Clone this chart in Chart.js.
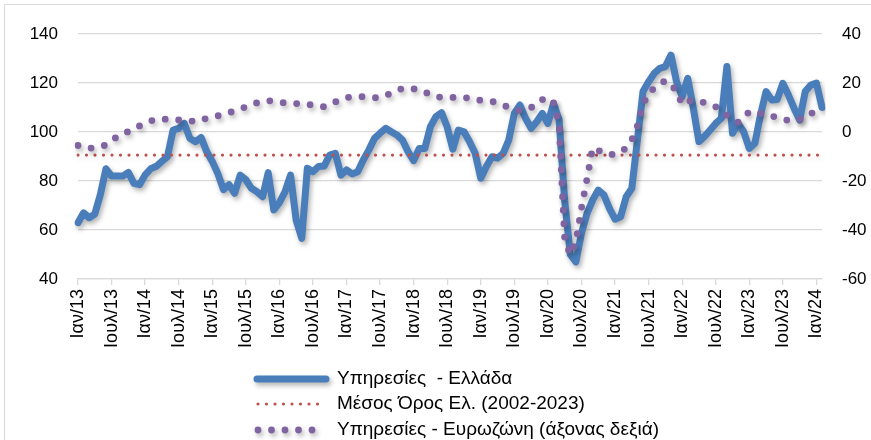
<!DOCTYPE html>
<html>
<head>
<meta charset="utf-8">
<script src="https://cdn.jsdelivr.net/npm/chart.js@4.4.0/dist/chart.umd.min.js"></script>
<style>
  html, body { margin: 0; padding: 0; background: #fff; }
  #wrap { position: relative; width: 871px; height: 440px; overflow: hidden; }
  #frame { position: absolute; left: 4px; top: 4px; width: 880px; height: 460px; border: 1px solid #d9d9d9; box-sizing: border-box; }
  canvas { position: absolute; left: 0; top: 0; }
</style>
</head>
<body>
<div id="wrap"><div id="frame"></div><canvas id="chart" width="871" height="440"></canvas></div>
<script>
// months Ιαν/13 ... Φεβ/24
const monthNames = ['Ιαν', 'Φεβ', 'Μαρ', 'Απρ', 'Μαϊ', 'Ιουν', 'Ιουλ', 'Αυγ', 'Σεπ', 'Οκτ', 'Νοε', 'Δεκ'];
const firstYear = 2013;
const nMonths = 134;

// Υπηρεσίες - Ελλάδα (left axis)
const greece = [
  63, 67, 65, 66.5, 74.5, 85, 82, 82, 82, 83.5, 79, 78.5,
  82.5, 85, 86, 88, 90, 100.8, 101.5, 103.5, 97.4, 96, 97.8, 92,
  88, 83, 76.5, 78.5, 75, 82.4, 80.5, 77, 75.6, 73.6, 83.4, 68.2,
  71.2, 75.6, 82.4, 64, 56.6, 85.2, 83.8, 85.9, 86.1, 90.6, 91.3, 82.4,
  84.5, 82.9, 83.8, 88.6, 92.7, 97.4, 99.5, 101.5, 100.1, 98.8, 96.7, 92,
  88.3, 93.3, 93.3, 102.2, 106.3, 107.9, 102, 93, 100.8, 100.1, 96, 91.3,
  81.1, 85.9, 89.9, 89.3, 91.3, 96.7, 107.6, 111, 105.6, 101.5, 104.2, 107.6,
  103.5, 111.7, 105, 72, 50, 47, 58.6, 66.8, 72.2, 76.3, 74.3, 68.8,
  64.4, 65.4, 73.6, 77, 96.7, 116.5, 120.5, 123.9, 126, 126.7, 131.4, 120.5,
  114.4, 121.9, 109.7, 96.1, 98.2, 100.8, 103.5, 105.6, 126.7, 99.5, 103.5, 100.1,
  93.3, 95.4, 106.9, 116.5, 113.1, 113.3, 119.9, 115.1, 109.7, 104.9, 116.5, 119.2,
  120, 110
];

// Μέσος Όρος Ελ. (2002-2023)
const meanGreece = 90.6;

// Υπηρεσίες - Ευρωζώνη (right axis)
const eurozone = [
  -5.5, -6, -6.7, -6.3, -6, -5.3, -3.6, -1.9, -0.7, 0.2, 1.3, 2.5,
  3.6, 4.5, 5.2, 5.3, 5.2, 5, 4.9, 4.9, 4.6, 4.2, 4.8, 5.6,
  6, 6.6, 7.2, 7.9, 8.6, 9.3, 10.3, 11.3, 11.9, 12.4, 12.8, 12.5,
  12.1, 11.9, 11.7, 11.6, 11.5, 11.3, 11, 10.5, 10.3, 11.2, 12.3, 13.3,
  14.1, 14.3, 14.4, 14.4, 14.2, 14, 14.1, 14.9, 15.9, 16.9, 17.8, 18,
  17.6, 17.3, 16.4, 15.2, 14.4, 14.2, 14.1, 14.1, 14.1, 14.1, 13.8, 13.3,
  12.9, 12.6, 12.5, 11.8, 10.9, 10.1, 9.3, 8.7, 9.2, 10, 11, 13.2,
  14, 12, 3, -44, -50, -45, -31, -19, -6.5, -7.5, -8.5, -9.3,
  -9, -8.2, -6.5, -3.2, 2.5, 11, 16, 17.8, 19.5, 21, 19.5, 16.5,
  11.3, 12.5, 13, 12.5, 12, 11, 10.3, 8.5, 6.8, 5.5, 4, 6,
  8.3, 8, 7.6, 7.2, 6.5, 6, 5.3, 4.7, 4.9, 5.3, 5.8, 7.5,
  8.6, 9.2
];

const leftTicks = { min: 40, max: 140, step: 20 };
const rightTicks = { min: -60, max: 40, step: 20 };

let labels = [];
for (let i = 0; i < nMonths; i++) {
  let yy = String((firstYear + Math.floor(i / 12)) % 100).padStart(2, '0');
  labels.push(monthNames[i % 12] + '/' + yy);
}

const FONT = 'Liberation Sans';

const shadow = {
  id: 'shadow',
  beforeDatasetDraw(chart, args) {
    const ctx = chart.ctx;
    ctx.save();
    ctx.shadowColor = args.index === 1 ? 'rgba(0,0,0,0.15)' : 'rgba(0,0,0,0.3)';
    ctx.shadowBlur = 5;
    ctx.shadowOffsetX = 2;
    ctx.shadowOffsetY = 3;
  },
  afterDatasetDraw(chart) {
    chart.ctx.restore();
  }
};

// legend stacked under the axis, left aligned
const legendBox = {
  id: 'legendBox',
  afterDraw(chart) {
    const ctx = chart.ctx;
    const rows = [
      { y: 379, x0: 257, x1: 326 },
      { y: 404, x0: 258, x1: 322 },
      { y: 430, x0: 258, x1: 320 }
    ];
    chart.data.datasets.forEach((ds, k) => {
      const r = rows[k];
      ctx.save();
      if (k !== 1) {
        ctx.shadowColor = 'rgba(0,0,0,0.3)';
        ctx.shadowBlur = 5;
        ctx.shadowOffsetX = 2;
        ctx.shadowOffsetY = 3;
      }
      ctx.strokeStyle = ds.borderColor;
      ctx.lineWidth = ds.borderWidth;
      ctx.lineCap = 'round';
      ctx.setLineDash(ds.borderDash || []);
      ctx.beginPath();
      ctx.moveTo(r.x0, r.y);
      ctx.lineTo(r.x1, r.y);
      ctx.stroke();
      ctx.restore();
      ctx.save();
      ctx.fillStyle = '#000';
      ctx.font = '19px "' + FONT + '"';
      ctx.textBaseline = 'middle';
      ctx.textAlign = 'left';
      ctx.fillText(ds.label, 337, r.y);
      ctx.restore();
    });
  }
};

new Chart(document.getElementById('chart'), {
  type: 'line',
  data: {
    labels: labels,
    datasets: [
      {
        label: 'Υπηρεσίες  - Ελλάδα',
        data: greece,
        yAxisID: 'y',
        borderColor: '#4a7ebb',
        borderWidth: 7,
        borderJoinStyle: 'round',
        borderCapStyle: 'round',
        pointRadius: 0,
        tension: 0,
        order: 3
      },
      {
        label: 'Μέσος Όρος Ελ. (2002-2023)',
        data: labels.map(() => meanGreece),
        yAxisID: 'y',
        borderColor: '#c0504d',
        borderWidth: 3.2,
        borderDash: [0, 8.5],
        borderCapStyle: 'round',
        pointRadius: 0,
        order: 2
      },
      {
        label: 'Υπηρεσίες - Ευρωζώνη (άξονας δεξιά)',
        data: eurozone,
        yAxisID: 'y2',
        borderColor: '#8064a2',
        borderWidth: 6.8,
        borderDash: [0, 13.5],
        borderCapStyle: 'round',
        pointRadius: 0,
        tension: 0,
        order: 1
      }
    ]
  },
  options: {
    responsive: false,
    animation: false,
    devicePixelRatio: 1,
    layout: { padding: { top: 34, bottom: 0, left: 0, right: 0 } },
    plugins: {
      legend: { display: false },
      tooltip: { enabled: false }
    },
    scales: {
      x: {
        type: 'category',
        offset: false,
        afterBuildTicks: s => { s.ticks = s.ticks.filter(t => t.value % 6 === 0); },
        afterFit: s => { s.height = 161; },
        grid: { drawOnChartArea: false, drawTicks: true, tickLength: 6, color: '#d9d9d9', lineWidth: 1.3 },
        border: { display: true, color: '#d9d9d9', width: 1.3 },
        ticks: {
          autoSkip: false, maxRotation: 90, minRotation: 90, padding: 4,
          color: '#000', font: { family: FONT, size: 18 }
        }
      },
      y: {
        position: 'left',
        min: leftTicks.min,
        max: leftTicks.max,
        afterFit: s => { s.width = 78; },
        grid: { color: '#d9d9d9', lineWidth: 1.3, drawTicks: false },
        border: { display: false },
        ticks: { stepSize: leftTicks.step, padding: 20, color: '#000', font: { family: FONT, size: 17 } }
      },
      y2: {
        position: 'right',
        min: rightTicks.min,
        max: rightTicks.max,
        afterFit: s => { s.width = 49; },
        grid: { drawOnChartArea: false, drawTicks: false },
        border: { display: false },
        ticks: { stepSize: rightTicks.step, padding: 20, color: '#000', font: { family: FONT, size: 17 } }
      }
    }
  },
  plugins: [shadow, legendBox]
});
</script>
</body>
</html>
